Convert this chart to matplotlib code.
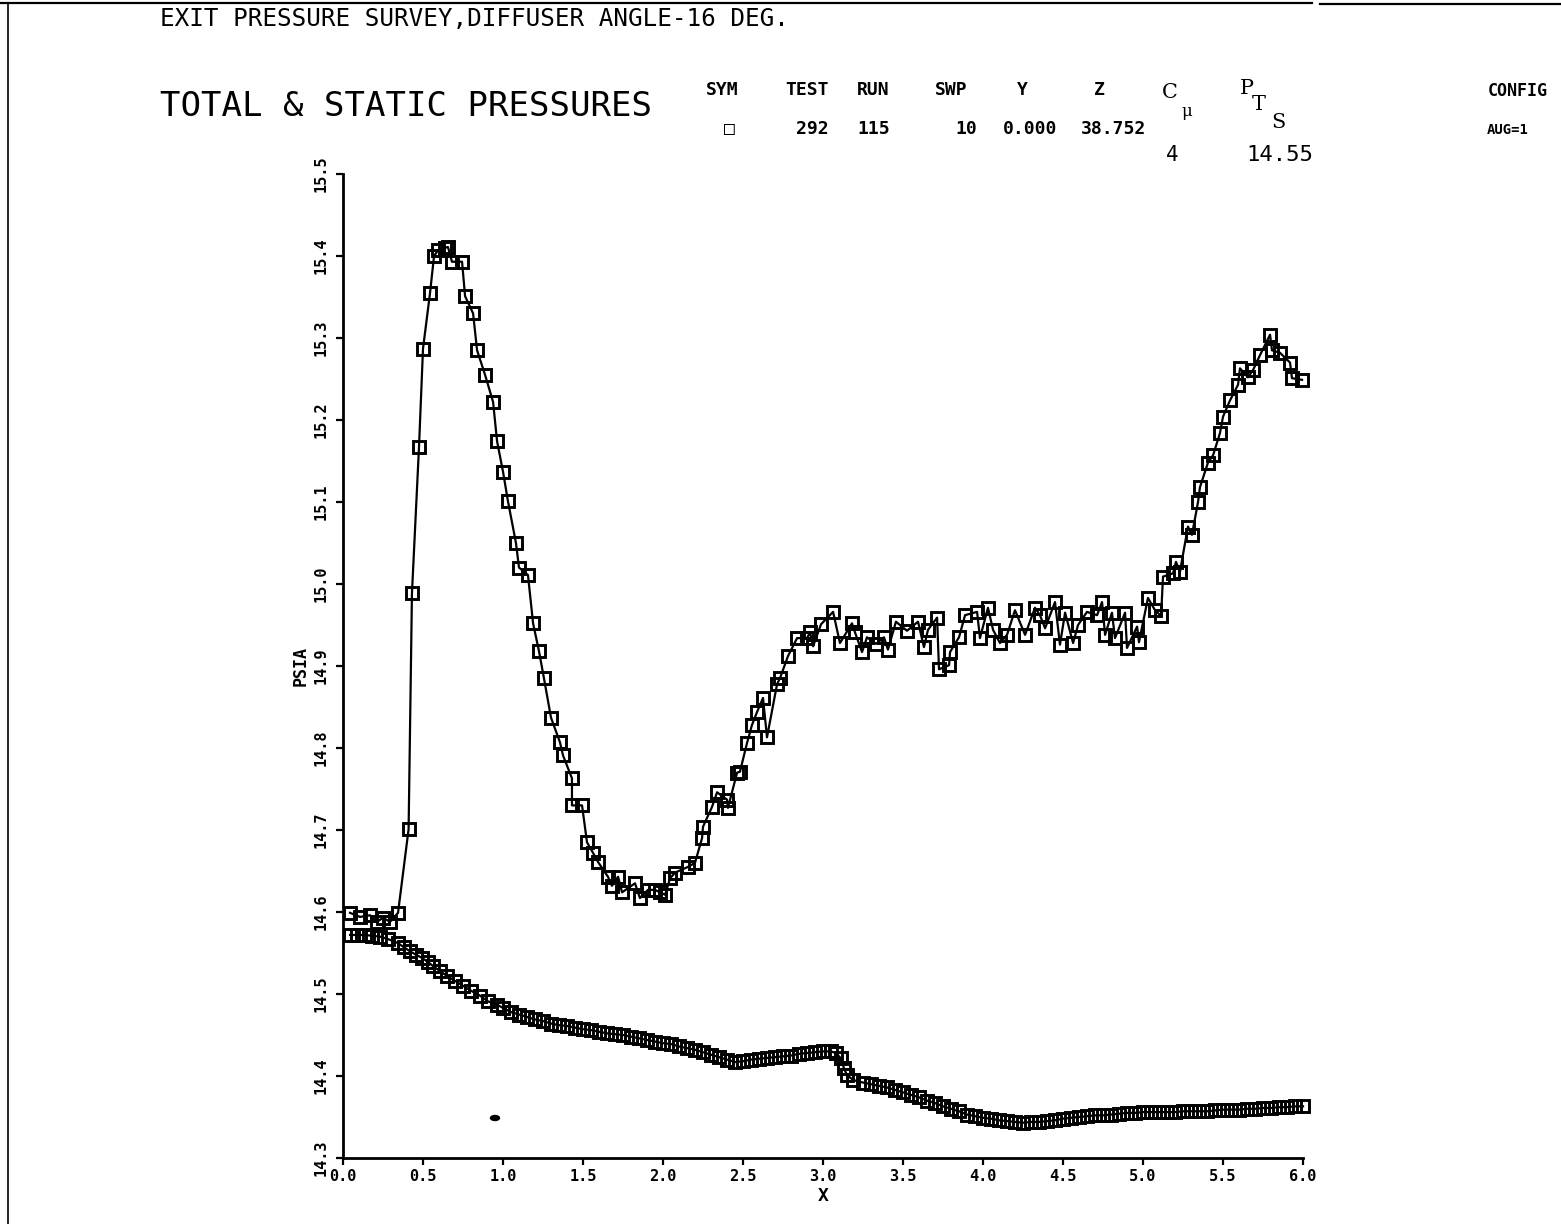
import matplotlib
matplotlib.use("Agg")
import matplotlib.pyplot as plt
from matplotlib.lines import Line2D
from matplotlib.patches import Ellipse

# ---------------- data ----------------
# total pressure survey (upper curve)
x_total = [0.044, 0.106, 0.169, 0.213, 0.250, 0.294, 0.344, 0.410, 0.431, 0.475,
           0.500, 0.544, 0.569, 0.594, 0.638, 0.656, 0.681, 0.744, 0.763, 0.813,
           0.838, 0.888, 0.938, 0.963, 1.000, 1.031, 1.081, 1.100, 1.156, 1.188,
           1.225, 1.256, 1.300, 1.356, 1.375, 1.431, 1.431, 1.494, 1.525, 1.563,
           1.594, 1.656, 1.681, 1.719, 1.744, 1.825, 1.856, 1.906, 1.950, 1.981,
           2.013, 2.044, 2.075, 2.156, 2.200, 2.244, 2.250, 2.306, 2.338, 2.400,
           2.406, 2.463, 2.481, 2.525, 2.556, 2.588, 2.625, 2.650, 2.713, 2.731,
           2.781, 2.838, 2.900, 2.919, 2.938, 2.988, 3.063, 3.106, 3.181, 3.200,
           3.244, 3.275, 3.331, 3.381, 3.406, 3.456, 3.525, 3.594, 3.631, 3.656,
           3.713, 3.725, 3.788, 3.794, 3.850, 3.888, 3.963, 3.981, 4.031, 4.063,
           4.106, 4.150, 4.200, 4.263, 4.325, 4.356, 4.388, 4.450, 4.481, 4.513,
           4.563, 4.594, 4.650, 4.713, 4.744, 4.763, 4.806, 4.825, 4.888, 4.900,
           4.963, 4.975, 5.031, 5.075, 5.113, 5.125, 5.188, 5.206, 5.231, 5.281,
           5.306, 5.344, 5.356, 5.406, 5.438, 5.481, 5.500, 5.544, 5.594, 5.606,
           5.656, 5.688, 5.731, 5.794, 5.806, 5.856, 5.919, 5.931, 5.994]
p_total = [14.599, 14.594, 14.596, 14.588, 14.593, 14.588, 14.599, 14.701, 14.989, 15.167,
           15.287, 15.355, 15.400, 15.407, 15.410, 15.411, 15.393, 15.393, 15.351, 15.330,
           15.285, 15.255, 15.222, 15.174, 15.137, 15.101, 15.050, 15.020, 15.011, 14.952,
           14.918, 14.885, 14.837, 14.807, 14.791, 14.763, 14.730, 14.730, 14.685, 14.672,
           14.661, 14.643, 14.632, 14.643, 14.624, 14.635, 14.617, 14.627, 14.627, 14.624,
           14.621, 14.641, 14.648, 14.655, 14.660, 14.690, 14.704, 14.728, 14.746, 14.737,
           14.727, 14.770, 14.771, 14.806, 14.828, 14.844, 14.861, 14.813, 14.878, 14.885,
           14.912, 14.934, 14.934, 14.941, 14.924, 14.951, 14.966, 14.928, 14.952, 14.941,
           14.917, 14.935, 14.927, 14.935, 14.920, 14.954, 14.943, 14.954, 14.923, 14.944,
           14.959, 14.896, 14.901, 14.917, 14.935, 14.962, 14.966, 14.934, 14.971, 14.944,
           14.928, 14.938, 14.968, 14.938, 14.971, 14.962, 14.946, 14.978, 14.926, 14.965,
           14.928, 14.950, 14.966, 14.962, 14.978, 14.938, 14.965, 14.934, 14.965, 14.922,
           14.948, 14.929, 14.983, 14.968, 14.961, 15.009, 15.013, 15.027, 15.015, 15.070,
           15.060, 15.100, 15.118, 15.148, 15.157, 15.184, 15.204, 15.224, 15.243, 15.263,
           15.252, 15.261, 15.279, 15.304, 15.285, 15.282, 15.270, 15.251, 15.249]

# static pressure survey (lower curve)
x_static = [0.044, 0.088, 0.138, 0.181, 0.231, 0.281, 0.344, 0.381, 0.419, 0.456,
            0.494, 0.531, 0.563, 0.606, 0.650, 0.700, 0.750, 0.800, 0.856, 0.906,
            0.963, 1.00, 1.05, 1.10, 1.15, 1.20, 1.25, 1.30, 1.35, 1.40,
            1.45, 1.50, 1.55, 1.60, 1.65, 1.70, 1.75, 1.80, 1.85, 1.90,
            1.95, 2.00, 2.05, 2.10, 2.15, 2.20, 2.25, 2.30, 2.35, 2.40,
            2.45, 2.50, 2.55, 2.60, 2.65, 2.70, 2.75, 2.80, 2.85, 2.90,
            2.95, 3.00, 3.05, 3.08, 3.11, 3.13, 3.15, 3.19, 3.25, 3.30,
            3.35, 3.40, 3.45, 3.50, 3.55, 3.60, 3.65, 3.70, 3.75, 3.80,
            3.85, 3.90, 3.95, 4.00, 4.05, 4.10, 4.15, 4.20, 4.25, 4.30,
            4.35, 4.40, 4.45, 4.50, 4.55, 4.60, 4.65, 4.70, 4.75, 4.80,
            4.85, 4.90, 4.95, 5.00, 5.05, 5.10, 5.15, 5.20, 5.25, 5.30,
            5.35, 5.40, 5.45, 5.50, 5.55, 5.60, 5.65, 5.70, 5.75, 5.80,
            5.85, 5.90, 5.95, 6.00]
p_static = [14.572, 14.572, 14.572, 14.571, 14.570, 14.567, 14.562, 14.557, 14.552, 14.548,
            14.544, 14.539, 14.534, 14.528, 14.522, 14.516, 14.510, 14.504, 14.498, 14.491,
            14.487, 14.483, 14.478, 14.475, 14.472, 14.469, 14.467, 14.464, 14.462, 14.461,
            14.459, 14.457, 14.456, 14.454, 14.452, 14.451, 14.450, 14.448, 14.446, 14.444,
            14.442, 14.440, 14.439, 14.436, 14.434, 14.432, 14.429, 14.426, 14.423, 14.420,
            14.417, 14.418, 14.420, 14.421, 14.422, 14.423, 14.424, 14.425, 14.427, 14.428,
            14.429, 14.430, 14.430, 14.428, 14.422, 14.410, 14.401, 14.395, 14.392, 14.390,
            14.388, 14.386, 14.383, 14.380, 14.377, 14.374, 14.370, 14.367, 14.363, 14.360,
            14.357, 14.353, 14.351, 14.349, 14.348, 14.346, 14.345, 14.344, 14.343, 14.344,
            14.344, 14.345, 14.346, 14.348, 14.349, 14.350, 14.351, 14.352, 14.352, 14.353,
            14.354, 14.355, 14.355, 14.356, 14.356, 14.356, 14.356, 14.356, 14.357, 14.357,
            14.357, 14.357, 14.358, 14.359, 14.359, 14.359, 14.360, 14.360, 14.361, 14.361,
            14.362, 14.362, 14.363, 14.363]

x_ticks = [0.0, 0.5, 1.0, 1.5, 2.0, 2.5, 3.0, 3.5, 4.0, 4.5, 5.0, 5.5, 6.0]
y_ticks = [14.3, 14.4, 14.5, 14.6, 14.7, 14.8, 14.9, 15.0, 15.1, 15.2, 15.3, 15.4, 15.5]

title_top = "EXIT PRESSURE SURVEY,DIFFUSER ANGLE-16 DEG."
title_main = "TOTAL & STATIC PRESSURES"
hdr_labels = ["SYM", "TEST", "RUN", "SWP", "Y", "Z"]
hdr_values = ["\u25a1", "292", "115", "10", "0.000", "38.752"]
cmu_value = "4"
pts_value = "14.55"

# ---------------- figure ----------------
W, H = 1561, 1224
MONO = ["DejaVu Sans Mono", "DejaVu Sans"]
plt.rcParams["font.family"] = MONO

fig = plt.figure(figsize=(W / 100, H / 100), dpi=100)
fig.patch.set_facecolor("white")


def fx(px):
    return px / W


def fy(py):
    return 1 - py / H


ax = fig.add_axes([fx(343), fy(1158), 960 / W, 984 / H])

line_kw = dict(color="black", lw=1.6, marker="s", ms=8.0, mfc="none",
               mec="black", mew=2.1, clip_on=False)
ax.plot(x_total, p_total, **line_kw)
ax.plot(x_static, p_static, **line_kw)

ax.set_xlim(0, 6.0)
ax.set_ylim(14.3, 15.5)
ax.set_xticks(x_ticks)
ax.set_xticklabels([f"{v:.1f}" for v in x_ticks], fontsize=11, fontweight="bold")
ax.set_yticks(y_ticks)
ax.set_yticklabels([f"{v:.1f}" for v in y_ticks], fontsize=11, fontweight="bold",
                   rotation=90, va="center")
for s in ("top", "right"):
    ax.spines[s].set_visible(False)
for s in ("left", "bottom"):
    ax.spines[s].set_linewidth(2.0)
ax.tick_params(axis="both", direction="out", length=5, width=1.6, color="black")
ax.tick_params(axis="x", pad=3)
ax.tick_params(axis="y", pad=5)
ax.set_xlabel("X", fontsize=13, fontweight="bold", labelpad=2)
ax.set_ylabel("PSIA", fontsize=12, fontweight="bold", labelpad=3)

# ---------------- header texts ----------------
fig.text(fx(160), fy(19), title_top, fontsize=17.5, ha="left", va="center")
fig.text(fx(160), fy(107), title_main, fontsize=24.5, ha="left", va="center")

hdr_x = [722, 807, 873, 951, 1022, 1099]
val_x = [729, 812, 874, 966, 1030, 1113]
for lab, xx in zip(hdr_labels, hdr_x):
    fig.text(fx(xx), fy(90), lab, fontsize=13, fontweight="bold",
             ha="center", va="center")
for val, xx in zip(hdr_values, val_x):
    fig.text(fx(xx), fy(129), val, fontsize=13, fontweight="bold",
             ha="center", va="center")

fig.text(fx(1170), fy(92), "C", fontsize=15, ha="center", va="center",
         family="DejaVu Serif")
fig.text(fx(1187), fy(111), "\u03bc", fontsize=12, ha="center", va="center",
         family="DejaVu Serif")
fig.text(fx(1247), fy(88), "P", fontsize=15, ha="center", va="center",
         family="DejaVu Serif")
fig.text(fx(1259), fy(105), "T", fontsize=15, ha="center", va="center",
         family="DejaVu Serif")
fig.text(fx(1278), fy(122), "S", fontsize=15, ha="center", va="center",
         family="DejaVu Serif")
fig.text(fx(1172), fy(155), cmu_value, fontsize=15, ha="center", va="center")
fig.text(fx(1280), fy(155), pts_value, fontsize=16, ha="center", va="center")

fig.text(fx(1488), fy(91), "CONFIG", fontsize=12, fontweight="bold",
         ha="left", va="center")
fig.text(fx(1487), fy(130), "AUG=1", fontsize=10, fontweight="bold",
         ha="left", va="center")

# ---------------- page frame of the scanned sheet ----------------
fig.add_artist(Line2D([fx(0), fx(1312)], [fy(3), fy(3)], color="black", lw=1.6))
fig.add_artist(Line2D([fx(1320), fx(1561)], [fy(4), fy(4)], color="black", lw=1.6))
fig.add_artist(Line2D([fx(8), fx(8)], [fy(4), fy(1224)], color="black", lw=1.2))
fig.add_artist(Ellipse((fx(495), fy(1118)), 9 / W, 5 / H, color="black"))

fig.savefig("out.png", dpi=100, facecolor="white")
